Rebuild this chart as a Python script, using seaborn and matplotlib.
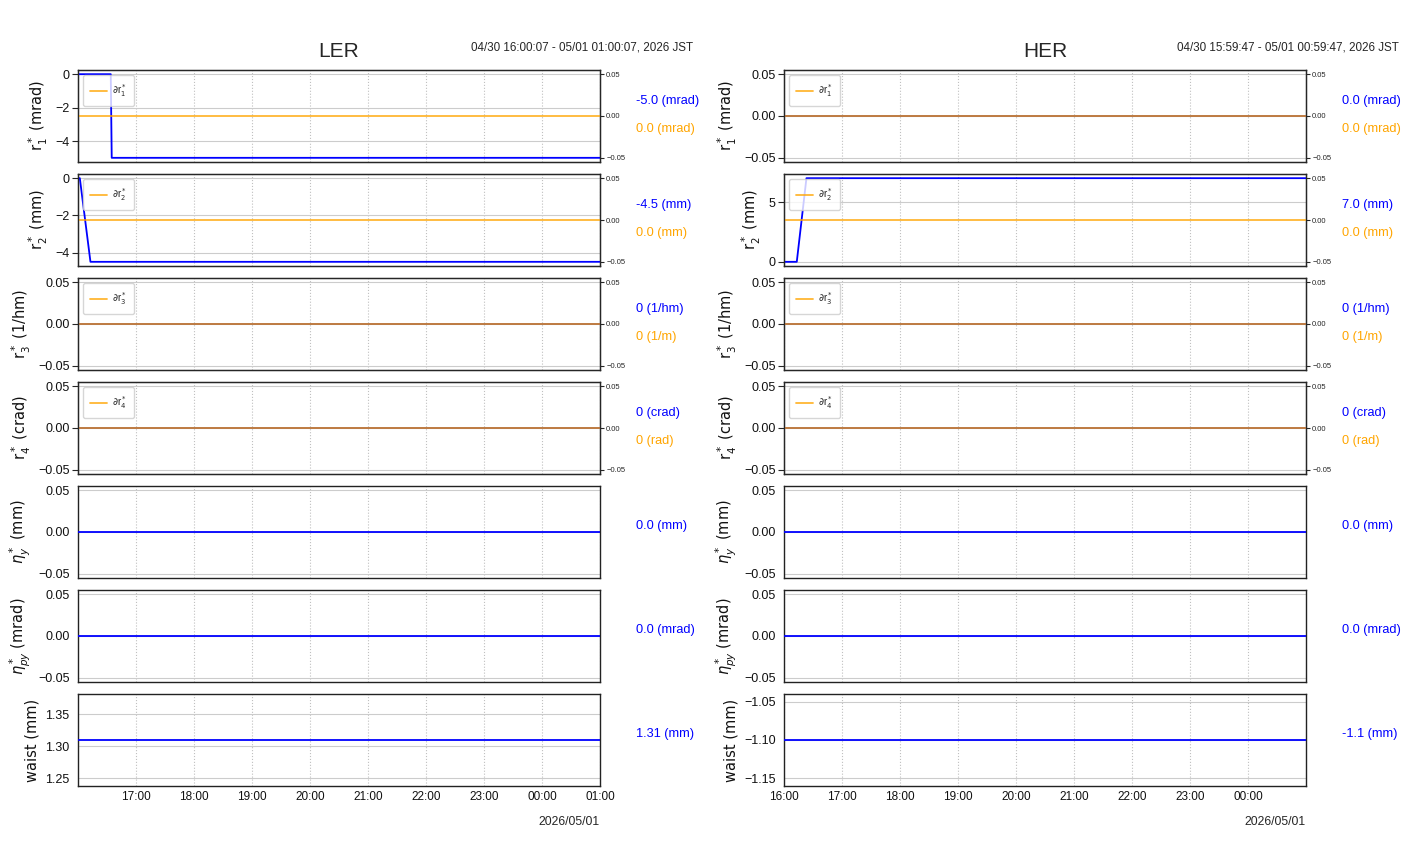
"""SuperKEKB LER / HER IR correction knobs trend plot."""
import matplotlib

matplotlib.use("Agg")
import matplotlib.dates as mdates
import matplotlib.pyplot as plt
import pandas as pd
import seaborn as sns

NARROW = ["Liberation Sans", "DejaVu Sans"]

# ---- data ----
LER_START, LER_END = "2026-04-30 16:00:07", "2026-05-01 01:00:07"
HER_START, HER_END = "2026-04-30 15:59:47", "2026-05-01 00:59:47"

ler_r1_t = [LER_START, "2026-04-30 16:34:00", "2026-04-30 16:35:00", LER_END]
ler_r1_v = [0.0, 0.0, -5.0, -5.0]
ler_r2_t = [LER_START, "2026-04-30 16:02:00", "2026-04-30 16:13:00", LER_END]
ler_r2_v = [0.0, 0.0, -4.5, -4.5]
ler_flat_t = [LER_START, LER_END]
ler_r3_v = [0.0, 0.0]
ler_r4_v = [0.0, 0.0]
ler_etay_v = [0.0, 0.0]
ler_etapy_v = [0.0, 0.0]
ler_waist_v = [1.31, 1.31]
ler_dr_v = [0.0, 0.0]  # dr1..dr4 all zero

her_r1_t = [HER_START, HER_END]
her_r1_v = [0.0, 0.0]
her_r2_t = [HER_START, "2026-04-30 16:13:00", "2026-04-30 16:23:00", HER_END]
her_r2_v = [0.0, 0.0, 7.0, 7.0]
her_flat_t = [HER_START, HER_END]
her_r3_v = [0.0, 0.0]
her_r4_v = [0.0, 0.0]
her_etay_v = [0.0, 0.0]
her_etapy_v = [0.0, 0.0]
her_waist_v = [-1.1, -1.1]
her_dr_v = [0.0, 0.0]

ler_blue_txt = ["-5.0 (mrad)", "-4.5 (mm)", "0 (1/hm)", "0 (crad)", "0.0 (mm)", "0.0 (mrad)", "1.31 (mm)"]
her_blue_txt = ["0.0 (mrad)", "7.0 (mm)", "0 (1/hm)", "0 (crad)", "0.0 (mm)", "0.0 (mrad)", "-1.1 (mm)"]
orange_txt = ["0.0 (mrad)", "0.0 (mm)", "0 (1/m)", "0 (rad)"]

ylabels = [r"r$^*_1$ (mrad)", r"r$^*_2$ (mm)", r"r$^*_3$ (1/hm)", r"r$^*_4$ (crad)",
           r"$\eta^*_y$ (mm)", r"$\eta^*_{py}$ (mrad)", "waist (mm)"]
leg_labels = [r"$\partial$r$^*_1$", r"$\partial$r$^*_2$", r"$\partial$r$^*_3$", r"$\partial$r$^*_4$"]

ler_yticks = [[0, -2, -4], [0, -2, -4], None, None, None, None, [1.25, 1.30, 1.35]]
her_yticks = [None, [0, 5], None, None, None, None, [-1.15, -1.10, -1.05]]

W, H = 1412, 864


def series(times, values):
    return pd.DataFrame({"t": pd.to_datetime(times), "v": values})


def draw_ring(fig, left_px, name, span_txt, start, end, rows, yticks, blue_txt):
    axes = []
    for i, (times, values, dr) in enumerate(rows):
        top = 70 + 104 * i
        ax = fig.add_axes([left_px / W, 1 - (top + 92) / H, 522 / W, 92 / H])
        sns.lineplot(data=series(times, values), x="t", y="v", ax=ax,
                     color="blue", lw=1.3, zorder=3)
        ax.set_xlim(pd.Timestamp(start), pd.Timestamp(end))
        if yticks[i] is not None:
            ax.set_yticks(yticks[i])
        ax.xaxis.set_major_locator(mdates.HourLocator())
        ax.xaxis.set_minor_locator(mdates.MinuteLocator(byminute=[20, 40]))
        ax.xaxis.set_major_formatter(mdates.DateFormatter("%H:%M"))
        ax.tick_params(axis="x", which="major", direction="in", length=7,
                       labelsize=8.5, color="#444444", labelcolor="#111111")
        ax.tick_params(axis="x", which="minor", direction="in", length=3.5,
                       color="#666666")
        ax.tick_params(axis="y", labelsize=9, length=4, pad=2, labelcolor="#111111")
        for lab in ax.get_yticklabels() + ax.get_xticklabels():
            lab.set_family(NARROW)
        ax.grid(axis="y", color="#cccccc", lw=0.8)
        ax.grid(axis="x", color="#c0c0c0", lw=0.8, ls=":")
        ax.set_xlabel("")
        ax.set_ylabel(ylabels[i], fontsize=10.5, family="DejaVu Sans", labelpad=4,
                      color="#111111")
        for sp in ax.spines.values():
            sp.set_color("#222222")
            sp.set_linewidth(1.0)
        if i < len(rows) - 1:
            ax.tick_params(axis="x", labelbottom=False)

        if dr is not None:
            tw = ax.twinx()
            sns.lineplot(data=series([start, end], dr), x="t", y="v", ax=tw,
                         color="orange", alpha=0.8, lw=1.3, label=leg_labels[i])
            tw.set_ylabel("")
            tw.set_yticks([-0.05, 0.0, 0.05])
            tw.tick_params(axis="y", labelsize=5.5, length=3, pad=1.5)
            for lab in tw.get_yticklabels():
                lab.set_family(NARROW)
            leg = tw.legend(loc="upper left", fontsize=7, handlelength=1.7,
                            handletextpad=0.5, borderpad=0.75, framealpha=0.8)
            for t in leg.get_texts():
                t.set_family(NARROW)
            ax.text(1.069, 0.66, blue_txt[i], color="blue", fontsize=9.2,
                    family=NARROW, va="center", transform=ax.transAxes)
            ax.text(1.069, 0.36, orange_txt[i], color="orange", fontsize=9.2,
                    family=NARROW, va="center", transform=ax.transAxes)
        else:
            ax.text(1.069, 0.565, blue_txt[i], color="blue", fontsize=9.2,
                    family=NARROW, va="center", transform=ax.transAxes)
        axes.append(ax)

    top_ax = axes[0]
    top_ax.text(0.5, 1.2, name, fontsize=15, family=NARROW, ha="center",
                va="center", transform=top_ax.transAxes)
    top_ax.text(1.178, 1.25, span_txt, fontsize=8.4, family=NARROW, ha="right",
                va="center", transform=top_ax.transAxes)
    axes[-1].text(1.0, -0.39, "2026/05/01", fontsize=8.8, family=NARROW, ha="right",
                  va="center", transform=axes[-1].transAxes)


def main() -> None:
    sns.set_style("white")
    fig = plt.figure(figsize=(W / 100, H / 100), dpi=100)

    ler_rows = [
        (ler_r1_t, ler_r1_v, ler_dr_v),
        (ler_r2_t, ler_r2_v, ler_dr_v),
        (ler_flat_t, ler_r3_v, ler_dr_v),
        (ler_flat_t, ler_r4_v, ler_dr_v),
        (ler_flat_t, ler_etay_v, None),
        (ler_flat_t, ler_etapy_v, None),
        (ler_flat_t, ler_waist_v, None),
    ]
    her_rows = [
        (her_r1_t, her_r1_v, her_dr_v),
        (her_r2_t, her_r2_v, her_dr_v),
        (her_flat_t, her_r3_v, her_dr_v),
        (her_flat_t, her_r4_v, her_dr_v),
        (her_flat_t, her_etay_v, None),
        (her_flat_t, her_etapy_v, None),
        (her_flat_t, her_waist_v, None),
    ]

    draw_ring(fig, 78, "LER", "04/30 16:00:07 - 05/01 01:00:07, 2026 JST",
              LER_START, LER_END, ler_rows, ler_yticks, ler_blue_txt)
    draw_ring(fig, 784, "HER", "04/30 15:59:47 - 05/01 00:59:47, 2026 JST",
              HER_START, HER_END, her_rows, her_yticks, her_blue_txt)

    fig.savefig("out.png", dpi=100)
    plt.close(fig)


if __name__ == "__main__":
    main()
